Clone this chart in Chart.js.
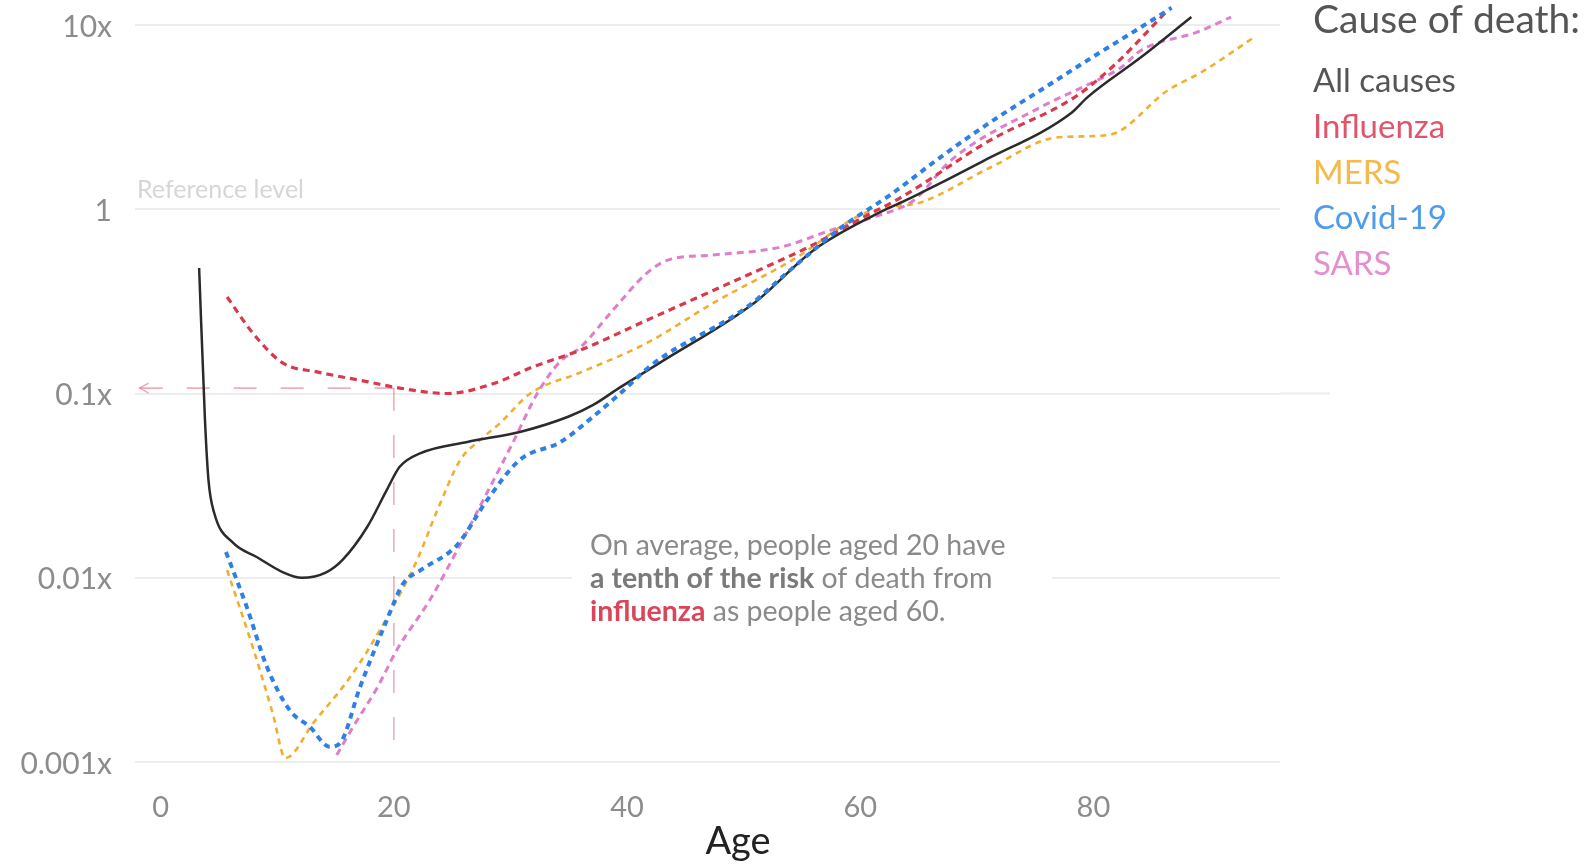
<!DOCTYPE html>
<html>
<head>
<meta charset="utf-8">
<script src="https://cdn.jsdelivr.net/npm/chart.js@4.4.1/dist/chart.umd.min.js"></script>
<style>
  html, body { margin: 0; padding: 0; background: #fff; }
</style>
</head>
<body>
<canvas id="myChart" width="1590" height="864"></canvas>
<script>
// axes
const tickAges = [0, 20, 40, 60, 80];
const tickRisks = [0.001, 0.01, 0.1, 1, 10];
const tickRiskLabels = ['0.001x', '0.01x', '0.1x', '1', '10x'];

// series (age -> relative risk of death)
const seriesNames = ['All causes', 'Influenza', 'MERS', 'Covid-19', 'SARS'];
const lineColors = ['#2b2b2b', '#d8394c', '#f3ad2f', '#2f80e4', '#df7fcb'];
const legendColors = ['#555555', '#e0556a', '#f5b94c', '#4e9ceb', '#e590cd'];

const allAges = [3.3, 3.8, 4.1, 4.6, 6.2, 8.2, 10.5, 12.1, 14.2, 15.6, 17.7, 19.4, 20.5, 22.3, 26.3, 30.8, 35, 37.1, 39.4, 42.9, 50.9, 56, 61.2, 64.3, 70.5, 78.1, 79.5, 84.1, 88.4];
const allRisk = [0.48, 0.072, 0.034, 0.0224, 0.0155, 0.013, 0.0107, 0.0100, 0.0107, 0.0125, 0.0188, 0.030, 0.040, 0.0475, 0.0546, 0.0618, 0.075, 0.0867, 0.108, 0.148, 0.31, 0.60, 0.93, 1.15, 1.82, 3.33, 4.06, 6.7, 11.05];

const fluAges = [5.7, 7.9, 10.5, 13.4, 17.7, 20.5, 24.6, 28.5, 32, 36, 41.7, 48.9, 53.2, 55.5, 60.2, 63.5, 71.2, 78.4, 81.8, 85, 86.4];
const fluRisk = [0.334, 0.213, 0.146, 0.131, 0.116, 0.107, 0.100, 0.113, 0.140, 0.172, 0.25, 0.40, 0.53, 0.62, 0.90, 1.16, 2.38, 4.06, 6.07, 9.75, 12.1];

const mersAges = [5.7, 7.9, 9.6, 10.7, 13.1, 16.5, 19.9, 22, 23.7, 25.7, 27.4, 29.1, 31.7, 36, 41.7, 47.4, 54.6, 60, 62.6, 65.2, 71.2, 77, 81.3, 86.4, 89.3, 93.8];
const mersRisk = [0.011, 0.0042, 0.00185, 0.00105, 0.00163, 0.00304, 0.0069, 0.0125, 0.023, 0.0436, 0.056, 0.069, 0.1, 0.13, 0.188, 0.31, 0.55, 0.93, 1.03, 1.09, 1.69, 2.46, 2.53, 4.43, 5.56, 8.6];

const covidAges = [5.6, 7.4, 9.1, 11.1, 12.8, 14.5, 15.4, 17.1, 19.4, 20.8, 22.3, 25.4, 28, 30.8, 34.3, 37.1, 39.4, 42.3, 50.3, 54.3, 58.3, 62.6, 66.9, 71.2, 75.5, 79.8, 84.1, 86.7];
const covidRisk = [0.0138, 0.0069, 0.0033, 0.0019, 0.00155, 0.00121, 0.00127, 0.00255, 0.0059, 0.0093, 0.011, 0.015, 0.0264, 0.0436, 0.0546, 0.075, 0.10, 0.146, 0.295, 0.486, 0.79, 1.2, 1.92, 2.98, 4.44, 6.62, 9.75, 12.4];

const sarsAges = [15.1, 16.5, 18.6, 20.3, 23.1, 25.4, 28, 30.2, 32.3, 34.3, 36, 38.8, 41.7, 43.5, 47.4, 53.2, 57.5, 61.2, 64.6, 67.8, 75.5, 79.8, 82.4, 84.1, 89, 91.8];
const sarsRisk = [0.00109, 0.00155, 0.00255, 0.0041, 0.0076, 0.014, 0.029, 0.054, 0.1, 0.15, 0.178, 0.284, 0.45, 0.53, 0.565, 0.624, 0.77, 0.91, 1.12, 1.85, 3.59, 4.84, 5.9, 7.3, 9.2, 11.05];

// reference marker: influenza risk at age 20
const refAge = 20;
const refRisk = 0.107;

const annotationLines = [
  [{t: 'On average, people aged 20 have', b: false, c: '#8a8a8a'}],
  [{t: 'a tenth of the risk', b: true, c: '#7a7a7a'}, {t: ' of death from', b: false, c: '#8a8a8a'}],
  [{t: 'influenza', b: true, c: '#d9465a'}, {t: ' as people aged 60.', b: false, c: '#8a8a8a'}]
];

function pts(ages, risks) {
  return ages.map((a, i) => ({x: a, y: risks[i]}));
}

const FONT = 'Lato';

const overlay = {
  id: 'overlay',
  beforeDatasetsDraw(chart) {
    const {ctx, scales: {x, y}, chartArea} = chart;
    ctx.save();
    // longer gridline at 0.1x
    ctx.strokeStyle = '#ededed';
    ctx.lineWidth = 2;
    ctx.beginPath();
    ctx.moveTo(chartArea.right, y.getPixelForValue(0.1));
    ctx.lineTo(chartArea.right + 50, y.getPixelForValue(0.1));
    ctx.stroke();

    // white box behind the note
    ctx.fillStyle = '#ffffff';
    ctx.fillRect(572, 518, 480, 108);

    // "Reference level"
    ctx.fillStyle = '#d6d6d6';
    ctx.font = '25px ' + FONT;
    ctx.textBaseline = 'middle';
    ctx.textAlign = 'left';
    ctx.fillText('Reference level', chartArea.left + 2, y.getPixelForValue(1) - 19);

    // reference arrow
    const rx = x.getPixelForValue(refAge);
    const ry = y.getPixelForValue(refRisk);
    const tipX = x.getPixelForValue(-1.8);
    ctx.strokeStyle = 'rgba(226, 120, 140, 0.6)';
    ctx.lineWidth = 1.6;
    ctx.setLineDash([23, 24]);
    ctx.beginPath();
    ctx.moveTo(tipX, ry);
    ctx.lineTo(rx, ry);
    ctx.stroke();
    ctx.beginPath();
    ctx.moveTo(rx, ry);
    ctx.lineTo(rx, y.getPixelForValue(0.001));
    ctx.stroke();
    ctx.setLineDash([]);
    ctx.beginPath();
    ctx.moveTo(tipX + 9, ry - 5);
    ctx.lineTo(tipX, ry);
    ctx.lineTo(tipX + 9, ry + 5);
    ctx.stroke();
    ctx.restore();
  },
  afterDraw(chart) {
    const {ctx} = chart;
    ctx.save();
    ctx.textBaseline = 'alphabetic';
    ctx.textAlign = 'left';

    // note
    let ly = 555;
    annotationLines.forEach(line => {
      let lx = 590;
      line.forEach(seg => {
        ctx.font = (seg.b ? 'bold ' : '') + '28.5px ' + FONT;
        ctx.fillStyle = seg.c;
        ctx.fillText(seg.t, lx, ly);
        lx += ctx.measureText(seg.t).width;
      });
      ly += 33;
    });

    // legend
    ctx.fillStyle = '#555555';
    ctx.font = '39px ' + FONT;
    ctx.fillText('Cause of death:', 1313, 33);
    ctx.font = '33px ' + FONT;
    seriesNames.forEach((n, i) => {
      ctx.fillStyle = legendColors[i];
      ctx.fillText(n, 1313, 92 + i * 45.8);
    });

    // axis title
    ctx.fillStyle = '#222222';
    ctx.font = '38px ' + FONT;
    ctx.textAlign = 'center';
    ctx.textBaseline = 'middle';
    ctx.fillText('Age', 738, 842);
    ctx.restore();
  }
};

const ctx = document.getElementById('myChart');
const myChart = new Chart(ctx, {
  type: 'line',
  data: {
    datasets: [
      {label: seriesNames[0], data: pts(allAges, allRisk), borderColor: lineColors[0], borderWidth: 2.5, order: 2},
      {label: seriesNames[1], data: pts(fluAges, fluRisk), borderColor: lineColors[1], borderWidth: 3.2, borderDash: [7, 5], order: 3},
      {label: seriesNames[2], data: pts(mersAges, mersRisk), borderColor: lineColors[2], borderWidth: 2.6, borderDash: [6, 5], order: 5},
      {label: seriesNames[3], data: pts(covidAges, covidRisk), borderColor: lineColors[3], borderWidth: 4, borderDash: [6, 5], order: 1},
      {label: seriesNames[4], data: pts(sarsAges, sarsRisk), borderColor: lineColors[4], borderWidth: 3, borderDash: [7, 5], order: 4}
    ]
  },
  options: {
    responsive: false,
    animation: false,
    devicePixelRatio: 1,
    layout: {padding: {left: 0, right: 310, top: 0, bottom: 0}, autoPadding: false},
    elements: {
      point: {radius: 0},
      line: {cubicInterpolationMode: 'monotone', fill: false, borderCapStyle: 'butt'}
    },
    plugins: {legend: {display: false}, tooltip: {enabled: false}},
    scales: {
      x: {
        type: 'linear',
        min: -2.2,
        max: 96,
        afterBuildTicks: s => { s.ticks = tickAges.map(v => ({value: v})); },
        afterFit: s => { s.height = 102; s.paddingLeft = 0; s.paddingRight = 0; },
        grid: {display: false, drawTicks: false},
        border: {display: false},
        ticks: {color: '#8c8c8c', font: {family: FONT, size: 29}, padding: 28, maxRotation: 0, autoSkip: false}
      },
      y: {
        type: 'logarithmic',
        min: 0.001,
        max: 13.67,
        afterBuildTicks: s => { s.ticks = tickRisks.map(v => ({value: v})); },
        afterFit: s => { s.width = 135; s.paddingTop = 0; s.paddingBottom = 0; },
        grid: {color: '#ededed', lineWidth: 2, drawTicks: false},
        border: {display: false},
        ticks: {
          callback: v => tickRiskLabels[tickRisks.indexOf(v)],
          color: '#8c8c8c',
          font: {family: FONT, size: 30},
          padding: 23,
          labelOffset: 2,
          autoSkip: false
        }
      }
    }
  },
  plugins: [overlay]
});
</script>
</body>
</html>
